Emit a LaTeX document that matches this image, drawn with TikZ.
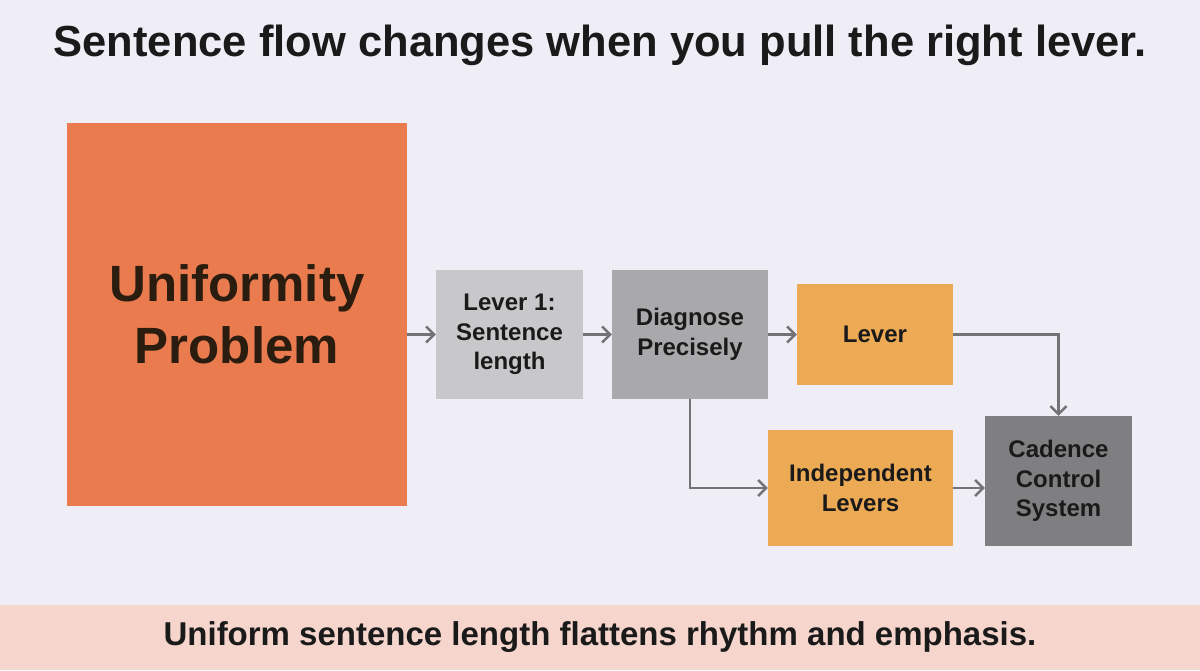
\documentclass[tikz,border=0pt]{standalone}
\usepackage{fontspec}
\setmainfont{Liberation Sans}
\usetikzlibrary{arrows.meta}

\definecolor{bgpage}{HTML}{EFEEF6}
\definecolor{bandpink}{HTML}{F5D5CC}
\definecolor{probred}{HTML}{E97B4F}
\definecolor{greylight}{HTML}{C8C8CA}
\definecolor{greymid}{HTML}{A9A9AB}
\definecolor{greydark}{HTML}{7F7F81}
\definecolor{leverorange}{HTML}{EDAA55}
\definecolor{connline}{HTML}{737375}
\definecolor{inktext}{HTML}{1A1A1A}

\tikzset{
  stepbox/.style={rectangle,inner sep=0pt,align=center,text=inktext,
    font=\fontsize{24}{29.5}\selectfont\bfseries},
  conn/.style={draw=connline,line width=2.5pt,
    -{Straight Barb[length=8pt,width=16pt,line width=2.5pt]}},
}

\begin{document}
\begin{tikzpicture}[x=1pt,y=-1pt]
\useasboundingbox (0,0) rectangle (1200,670);
\fill[bgpage] (0,0) rectangle (1200,670);
\fill[bandpink] (0,605) rectangle (1200,670);

% title and footer
\node[font=\fontsize{43.5}{52}\selectfont\bfseries,text=inktext] (title) at (600,45) {Sentence flow changes when you pull the right lever.};
\node[font=\fontsize{33}{40}\selectfont\bfseries,text=inktext] (footer) at (600,637) {Uniform sentence length flattens rhythm and emphasis.};

% boxes
\node[stepbox,fill=probred,minimum width=340pt,minimum height=383pt,
  text=black!78!brown,font=\fontsize{51}{62}\selectfont\bfseries] (problem) at (237,314.5) {Uniformity\\Problem};
\node[stepbox,fill=greylight,minimum width=147pt,minimum height=129pt] (lever1) at (509.5,334.5) {Lever 1:\\Sentence\\length};
\node[stepbox,fill=greymid,minimum width=156pt,minimum height=129pt] (diagnose) at (690,334.5) {Diagnose\\Precisely};
\node[stepbox,fill=leverorange,minimum width=156pt,minimum height=101pt] (lever) at (875,334.5) {Lever};
\node[stepbox,fill=leverorange,minimum width=185pt,minimum height=116pt] (indep) at (860.5,488) {Independent\\Levers};
\node[stepbox,fill=greydark,minimum width=147pt,minimum height=130pt] (cadence) at (1058.5,481) {Cadence\\Control\\System};

% connectors
\draw[conn] (problem.east |- lever1.west) -- (lever1.west);
\draw[conn] (lever1.east) -- (diagnose.west);
\draw[conn] (diagnose.east) -- (lever.west);
\draw[conn] (lever.east) -| (cadence.north);
\draw[conn] (diagnose.south) |- (indep.west);
\draw[conn] (indep.east) -- (indep.east -| cadence.west);
\end{tikzpicture}
\end{document}
